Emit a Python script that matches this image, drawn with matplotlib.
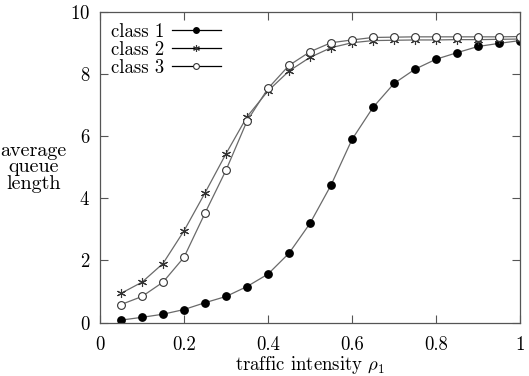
import numpy as np
import matplotlib
matplotlib.use("Agg")
import matplotlib.pyplot as plt

plt.rcParams['font.family'] = 'serif'
plt.rcParams['font.serif'] = ['cmr10', 'DejaVu Serif']
plt.rcParams['mathtext.fontset'] = 'cm'
plt.rcParams['axes.formatter.use_mathtext'] = True

# traffic intensity rho_1
rho = [0.05, 0.10, 0.15, 0.20, 0.25, 0.30, 0.35, 0.40, 0.45, 0.50,
       0.55, 0.60, 0.65, 0.70, 0.75, 0.80, 0.85, 0.90, 0.95, 1.00]

class1 = [0.08, 0.17, 0.27, 0.42, 0.64, 0.84, 1.16, 1.56, 2.23, 3.19,
          4.42, 5.89, 6.92, 7.69, 8.15, 8.47, 8.68, 8.88, 8.98, 9.07]
class2 = [0.94, 1.30, 1.90, 2.95, 4.17, 5.43, 6.62, 7.45, 8.09, 8.53,
          8.84, 9.00, 9.07, 9.08, 9.09, 9.09, 9.10, 9.10, 9.11, 9.12]
class3 = [0.58, 0.84, 1.30, 2.10, 3.52, 4.90, 6.48, 7.53, 8.27, 8.71,
          9.00, 9.09, 9.17, 9.18, 9.19, 9.19, 9.19, 9.19, 9.19, 9.20]

fig = plt.figure(figsize=(5.29, 3.76), dpi=100)
ax = fig.add_axes([0.189, 0.142, 0.794, 0.827])

lc = '#6a6a6a'
l1, = ax.plot(rho, class1, color=lc, lw=0.9, marker='o', ms=5.3,
              mfc='black', mec='black')
l2, = ax.plot(rho, class2, color=lc, lw=0.9, marker=(6, 2, 0), ms=6.5,
              mec='#333333', mew=0.8)
l3, = ax.plot(rho, class3, color=lc, lw=0.9, marker='o', ms=5.6,
              mfc='white', mec='#333333', mew=0.8)

ax.set_xlim(0, 1)
ax.set_ylim(0, 10)
ax.set_xticks([0, 0.2, 0.4, 0.6, 0.8, 1])
ax.set_xticklabels(['0', '0.2', '0.4', '0.6', '0.8', '1'])
ax.set_yticks([0, 2, 4, 6, 8, 10])
ax.tick_params(direction='in', top=True, right=True, length=6, width=0.8,
               labelsize=13.5, pad=7, color='#555555')
ax.tick_params(axis='x', pad=10)
for s in ax.spines.values():
    s.set_color('#555555')
    s.set_linewidth(0.9)

ax.set_xlabel(r'traffic intensity $\rho_1$', fontsize=13.5, labelpad=0)
ax.set_ylabel('average\nqueue\nlength', fontsize=14.5, rotation=0,
              ha='center', va='center', linespacing=0.9)
ax.yaxis.set_label_coords(-0.158, 0.5)

leg = ax.legend([l1, l2, l3], ['class 1', 'class 2', 'class 3'],
                loc='upper left', frameon=False, markerfirst=False,
                fontsize=13.5, handlelength=2.6, handletextpad=0.4,
                labelspacing=0.0, borderaxespad=0.2, markerscale=0.75)
for h in leg.legend_handles:
    h.set_color('black')

fig.savefig('out.png', dpi=100)
